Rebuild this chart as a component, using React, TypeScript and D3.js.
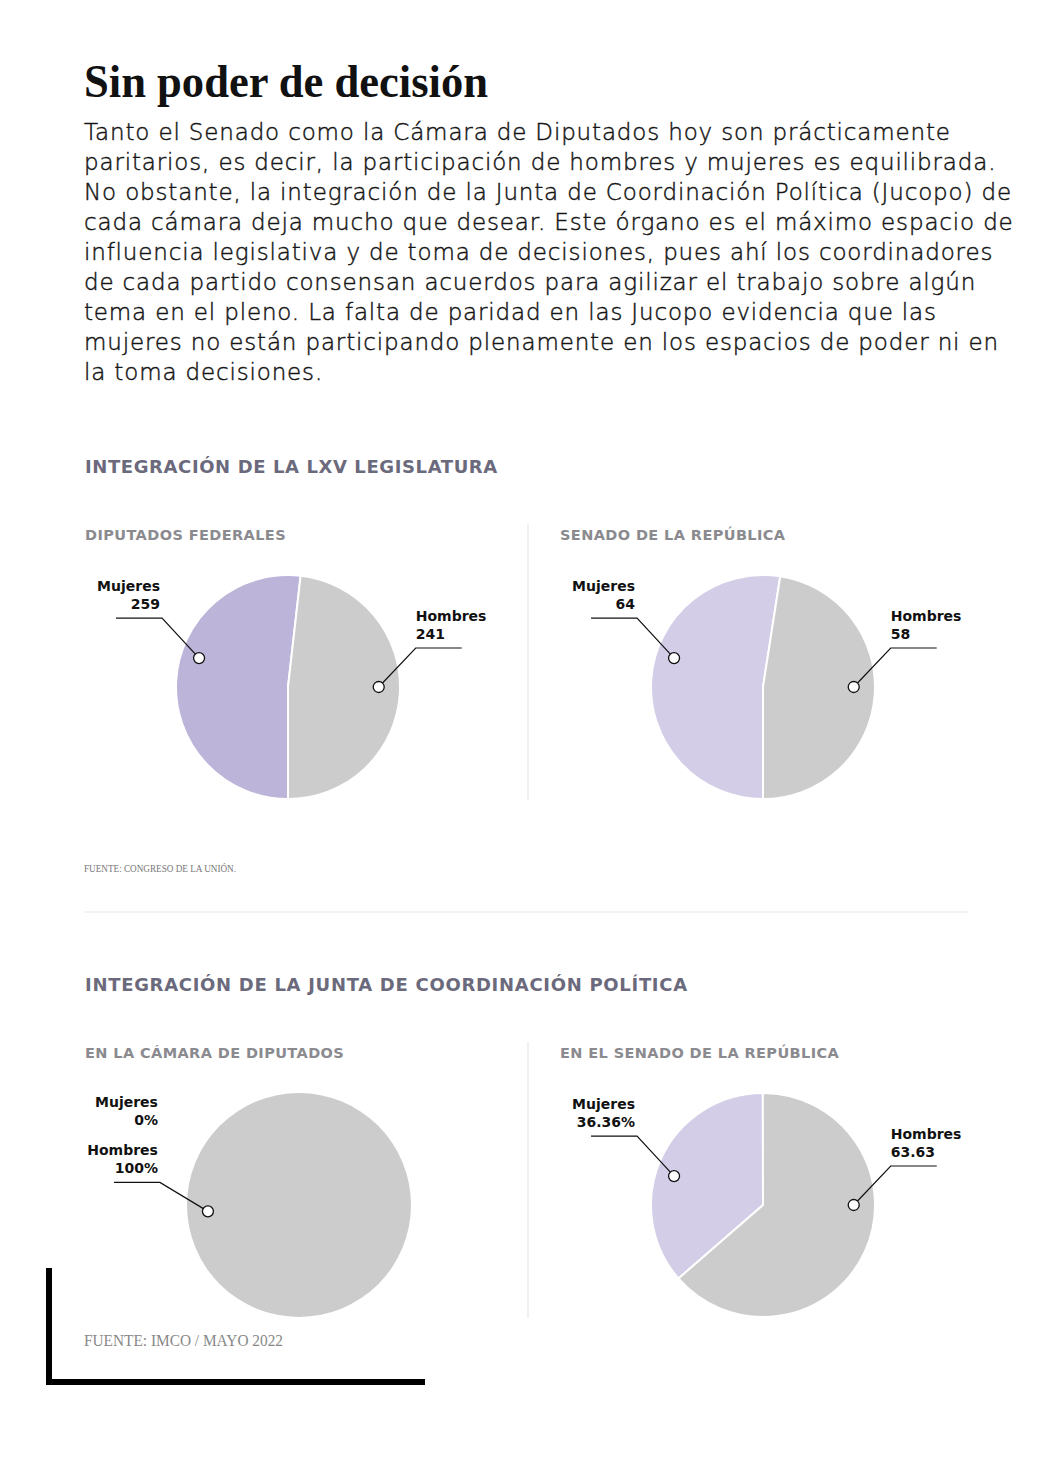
import React from 'react';
import * as d3 from 'd3';

// ---- data ----
const generos = ['Mujeres', 'Hombres'];

const diputadosFederales = [259, 241];
const senadoRepublica = [64, 58];
const jucopoDiputados = [0, 100];
const jucopoSenado = [36.36, 63.63];

const etqDiputados = ['259', '241'];
const etqSenado = ['64', '58'];
const etqJucopoDip = ['0%', '100%'];
const etqJucopoSen = ['36.36%', '63.63'];

const parrafo = [
  'Tanto el Senado como la Cámara de Diputados hoy son prácticamente',
  'paritarios, es decir, la participación de hombres y mujeres es equilibrada.',
  'No obstante, la integración de la Junta de Coordinación Política (Jucopo) de',
  'cada cámara deja mucho que desear. Este órgano es el máximo espacio de',
  'influencia legislativa y de toma de decisiones, pues ahí los coordinadores',
  'de cada partido consensan acuerdos para agilizar el trabajo sobre algún',
  'tema en el pleno. La falta de paridad en las Jucopo evidencia que las',
  'mujeres no están participando plenamente en los espacios de poder ni en',
  'la toma decisiones.',
];

const GRIS = '#cccccc';
const MORADO = '#bdb4d9';
const LILA = '#d3cde7';
const SANS = "'DejaVu Sans', Verdana, sans-serif";
const SERIF = "'Liberation Serif', 'Times New Roman', serif";

const R = 112;

// callout: which slice, side, angle of the dot (deg, clockwise from top), radius factor, elbow offset
const charts = [
  {
    titulo: 'DIPUTADOS FEDERALES', tx: 85, ty: 540,
    valores: diputadosFederales, etiquetas: etqDiputados,
    cx: 288, cy: 687, inicio: 180, colores: [MORADO, GRIS],
    callouts: [
      { i: 0, lado: 'izq', ang: 288, f: 0.835, dx: -37, dy: -40 },
      { i: 1, lado: 'der', ang: 90, f: 0.81, dx: 37, dy: -39 },
    ],
  },
  {
    titulo: 'SENADO DE LA REPÚBLICA', tx: 560, ty: 540,
    valores: senadoRepublica, etiquetas: etqSenado,
    cx: 763, cy: 687, inicio: 180, colores: [LILA, GRIS],
    callouts: [
      { i: 0, lado: 'izq', ang: 288, f: 0.835, dx: -37, dy: -40 },
      { i: 1, lado: 'der', ang: 90, f: 0.81, dx: 37, dy: -39 },
    ],
  },
  {
    titulo: 'EN LA CÁMARA DE DIPUTADOS', tx: 85, ty: 1058,
    valores: jucopoDiputados, etiquetas: etqJucopoDip,
    cx: 299, cy: 1205, inicio: 0, colores: [LILA, GRIS],
    callouts: [
      { i: 1, lado: 'izq', ang: 266, f: 0.815, dx: -48, dy: -29 },
    ],
  },
  {
    titulo: 'EN EL SENADO DE LA REPÚBLICA', tx: 560, ty: 1058,
    valores: jucopoSenado, etiquetas: etqJucopoSen,
    cx: 763, cy: 1205, inicio: 229, colores: [LILA, GRIS],
    callouts: [
      { i: 0, lado: 'izq', ang: 288, f: 0.835, dx: -37, dy: -40 },
      { i: 1, lado: 'der', ang: 90, f: 0.81, dx: 37, dy: -39 },
    ],
  },
];

const arc = d3.arc<d3.PieArcDatum<number>>().innerRadius(0).outerRadius(R);
const rad = (d: number) => (d * Math.PI) / 180;

function Etiqueta({ x, y, anchor, nombre, valor }: any) {
  return (
    <text x={x} textAnchor={anchor} fontFamily={SANS} fontWeight="bold" fontSize={14} fill="#111">
      <tspan x={x} y={y - 27}>{nombre}</tspan>
      <tspan x={x} y={y - 9}>{valor}</tspan>
    </text>
  );
}

function Pastel({ c }: any) {
  const pie = d3.pie<number>().sort(null).value((d) => d)
    .startAngle(rad(c.inicio)).endAngle(rad(c.inicio + 360));
  const arcos = pie(c.valores).filter((a) => a.value > 0);
  return (
    <g>
      <text x={c.tx} y={c.ty} fontFamily={SANS} fontWeight="bold" fontSize={14.5}
        letterSpacing={0.4} fill="#8a8a8f">
        {c.titulo}
      </text>
      <g transform={`translate(${c.cx},${c.cy})`}>
        {arcos.map((a, k) => (
          <path key={k} d={arc(a) || ''} fill={c.colores[a.index]}
            stroke={arcos.length > 1 ? '#fff' : 'none'} strokeWidth={2} />
        ))}
      </g>
      {c.callouts.map((co: any, k: number) => {
        const [px, py] = d3.pointRadial(rad(co.ang), R * co.f);
        const dotX = c.cx + px;
        const dotY = c.cy + py;
        const ex = dotX + co.dx;
        const ey = dotY + co.dy;
        const hx = co.lado === 'izq' ? ex - 46 : ex + 46;
        return (
          <g key={k}>
            <polyline points={`${hx},${ey} ${ex},${ey} ${dotX},${dotY}`} fill="none" stroke="#111" strokeWidth={1.2} />
            <circle cx={dotX} cy={dotY} r={5.5} fill="#fff" stroke="#111" strokeWidth={1.3} />
            {co.lado === 'izq' ? (
              <Etiqueta x={ex - 2} y={ey} anchor="end" nombre={generos[co.i]} valor={c.etiquetas[co.i]} />
            ) : (
              <Etiqueta x={ex} y={ey} anchor="start" nombre={generos[co.i]} valor={c.etiquetas[co.i]} />
            )}
            {c.valores[0] === 0 && co.lado === 'izq' ? (
              <Etiqueta x={ex - 2} y={ey - 48} anchor="end" nombre={generos[0]} valor={c.etiquetas[0]} />
            ) : null}
          </g>
        );
      })}
    </g>
  );
}

export default function App() {
  return (
    <div style={{ position: 'absolute', left: 0, top: 0 }}>
      <svg width={1048} height={1458} style={{ display: 'block', background: '#fff' }}>
        <rect width={1048} height={1458} fill="#fff" />
        <text x={84} y={97} fontFamily={SERIF} fontWeight="bold" fontSize={47} fill="#111"
          textLength={404} lengthAdjust="spacingAndGlyphs">
          Sin poder de decisión
        </text>
        {parrafo.map((l, i) => (
          <text key={i} x={84} y={140 + i * 30} fontFamily={SANS} fontWeight={200} fontSize={23}
            letterSpacing={0.85} fill="#151515" stroke="#151515" strokeWidth={0.45}>
            {l}
          </text>
        ))}

        <text x={85} y={473} fontFamily={SANS} fontWeight="bold" fontSize={18} letterSpacing={0.6} fill="#6b6a7c">
          INTEGRACIÓN DE LA LXV LEGISLATURA
        </text>
        <line x1={528} x2={528} y1={524} y2={800} stroke="#ececec" strokeWidth={1.5} />
        <Pastel c={charts[0]} />
        <Pastel c={charts[1]} />
        <text x={84} y={872} fontFamily={SERIF} fontSize={9.5} fill="#777"
          textLength={152} lengthAdjust="spacingAndGlyphs">
          FUENTE: CONGRESO DE LA UNIÓN.
        </text>
        <line x1={85} x2={968} y1={912} y2={912} stroke="#eeeeee" strokeWidth={1.5} />

        <text x={85} y={991} fontFamily={SANS} fontWeight="bold" fontSize={18} letterSpacing={0.7} fill="#6b6a7c">
          INTEGRACIÓN DE LA JUNTA DE COORDINACIÓN POLÍTICA
        </text>
        <line x1={528} x2={528} y1={1042} y2={1318} stroke="#ececec" strokeWidth={1.5} />
        <Pastel c={charts[2]} />
        <Pastel c={charts[3]} />

        <text x={84} y={1346} fontFamily={SERIF} fontSize={16} fill="#888"
          textLength={199} lengthAdjust="spacingAndGlyphs">
          FUENTE: IMCO / MAYO 2022
        </text>
        <path d="M49,1268 V1382 H425" fill="none" stroke="#000" strokeWidth={6} />
      </svg>
    </div>
  );
}
